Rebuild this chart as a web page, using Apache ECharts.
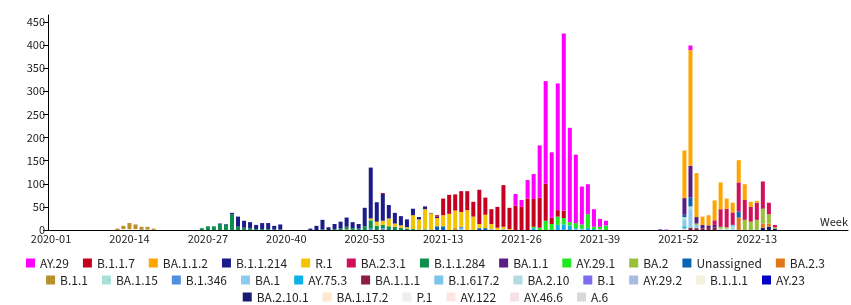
<!DOCTYPE html>
<html>
<head>
<meta charset="utf-8">
<script src="https://cdn.jsdelivr.net/npm/echarts@6/dist/echarts.min.js"></script>
<style>
html, body { margin: 0; padding: 0; background: #fff; }
#main { width: 851px; height: 305px; }
</style>
</head>
<body>
<div id="main"></div>
<script>
// weeks per year on the x axis
var years = [['2020', 53], ['2021', 52], ['2022', 18]];
var weeks = [];
years.forEach(function (y) {
    for (var w = 1; w <= y[1]; w++) {
        weeks.push(y[0] + '-' + (w < 10 ? '0' + w : w));
    }
});

// legend rows (same order as the picture)
var legendRow1 = ['AY.29', 'B.1.1.7', 'BA.1.1.2', 'B.1.1.214', 'R.1', 'BA.2.3.1', 'B.1.1.284', 'BA.1.1', 'AY.29.1', 'BA.2', 'Unassigned', 'BA.2.3'];
var legendRow2 = ['B.1.1', 'BA.1.15', 'B.1.346', 'BA.1', 'AY.75.3', 'BA.1.1.1', 'B.1.617.2', 'BA.2.10', 'B.1', 'AY.29.2', 'B.1.1.1', 'AY.23'];
var legendRow3 = ['BA.2.10.1', 'BA.1.17.2', 'P.1', 'AY.122', 'AY.46.6', 'A.6'];

var colors = [
    '#ff00ff', '#c4001e', '#ffa500', '#1c1c8a', '#f4c400', '#d0105c', '#0f8f4f', '#5a1e82', '#1ee81e', '#9abf3a', '#0a64b4', '#e0781a',
    '#b8902c', '#a8e0d8', '#4f8fdf', '#8ccbf0', '#10b0e8', '#8b2040', '#7fc4ea', '#b0dce0', '#7b6cf0', '#a8bce0', '#f3f0dc', '#0000c8',
    '#1a1a70', '#fde8cc', '#eeeeee', '#ffe4e4', '#f8e0e8', '#d8d8d8'
];

// counts per week for each lineage
var ay29 = [['2021-25', 25], ['2021-26', 15], ['2021-27', 40], ['2021-28', 54], ['2021-29', 113], ['2021-30', 222], ['2021-31', 141], ['2021-32', 274], ['2021-33', 383], ['2021-34', 204], ['2021-35', 148], ['2021-36', 82], ['2021-37', 65], ['2021-38', 38], ['2021-39', 17], ['2021-40', 10], ['2021-50', 1], ['2022-02', 10]];
var b117 = [['2021-03', 2], ['2021-12', 3], ['2021-13', 36], ['2021-14', 41], ['2021-15', 35], ['2021-16', 45], ['2021-17', 41], ['2021-18', 32], ['2021-19', 74], ['2021-20', 37], ['2021-21', 32], ['2021-22', 45], ['2021-23', 90], ['2021-24', 46], ['2021-25', 53], ['2021-26', 50], ['2021-27', 68], ['2021-28', 60], ['2021-29', 65], ['2021-30', 80], ['2021-31', 14], ['2021-32', 14], ['2021-33', 16]];
var ba112 = [['2022-01', 103], ['2022-02', 250], ['2022-03', 95], ['2022-04', 18], ['2022-05', 22], ['2022-06', 43], ['2022-07', 58], ['2022-08', 22], ['2022-09', 21], ['2022-10', 48], ['2022-11', 34], ['2022-12', 11], ['2022-13', 4]];
var b11214 = [['2020-29', 1], ['2020-30', 1], ['2020-31', 3], ['2020-32', 22], ['2020-33', 15], ['2020-34', 13], ['2020-35', 9], ['2020-36', 13], ['2020-37', 13], ['2020-38', 8], ['2020-39', 11], ['2020-44', 3], ['2020-45', 9], ['2020-46', 21], ['2020-47', 6], ['2020-48', 11], ['2020-49', 15], ['2020-50', 20], ['2020-51', 13], ['2020-52', 10], ['2020-53', 40], ['2021-01', 110], ['2021-02', 42], ['2021-03', 58], ['2021-04', 29], ['2021-05', 23], ['2021-06', 20], ['2021-07', 17], ['2021-08', 14], ['2021-09', 5], ['2021-10', 6], ['2021-11', 1], ['2021-12', 3]];
var r1 = [['2021-01', 4], ['2021-02', 9], ['2021-03', 9], ['2021-04', 17], ['2021-05', 7], ['2021-06', 5], ['2021-07', 3], ['2021-08', 30], ['2021-09', 22], ['2021-10', 42], ['2021-11', 35], ['2021-12', 18], ['2021-13', 24], ['2021-14', 35], ['2021-15', 38], ['2021-16', 32], ['2021-17', 43], ['2021-18', 29], ['2021-19', 9], ['2021-20', 29], ['2021-21', 11], ['2021-22', 5], ['2021-23', 5], ['2021-24', 2]];
var ba231 = [['2022-06', 10], ['2022-07', 38], ['2022-08', 40], ['2022-09', 27], ['2022-10', 63], ['2022-11', 43], ['2022-12', 32], ['2022-13', 37], ['2022-14', 59], ['2022-15', 25], ['2022-16', 5]];
var b11284 = [['2020-26', 4], ['2020-27', 8], ['2020-28', 8], ['2020-29', 13], ['2020-30', 12], ['2020-31', 34], ['2020-32', 7], ['2020-33', 5], ['2020-34', 4], ['2020-35', 2], ['2020-36', 2], ['2020-37', 2], ['2020-38', 1], ['2020-39', 1], ['2020-46', 1], ['2020-48', 2], ['2020-49', 3], ['2020-50', 5], ['2020-51', 4], ['2020-52', 3], ['2020-53', 8], ['2021-01', 18], ['2021-02', 9], ['2021-03', 7], ['2021-04', 8], ['2021-05', 7], ['2021-06', 5], ['2021-07', 3], ['2021-08', 2], ['2021-09', 1], ['2021-10', 2], ['2021-11', 1]];
var ba11 = [['2022-01', 36], ['2022-02', 69], ['2022-03', 14], ['2022-04', 8], ['2022-05', 6], ['2022-06', 6]];
var ay291 = [['2021-28', 3], ['2021-29', 5], ['2021-30', 20], ['2021-31', 13], ['2021-32', 18], ['2021-33', 14], ['2021-34', 7], ['2021-35', 11], ['2021-36', 9], ['2021-37', 30], ['2021-38', 5], ['2021-39', 5], ['2021-40', 10]];
var ba2 = [['2022-03', 3], ['2022-07', 4], ['2022-08', 3], ['2022-11', 22], ['2022-12', 18], ['2022-13', 22], ['2022-14', 32], ['2022-15', 20], ['2022-16', 3]];
var unassigned = [['2021-12', 8], ['2021-13', 8], ['2021-19', 4], ['2021-20', 4], ['2022-01', 5], ['2022-02', 19], ['2022-10', 13]];
var ba23 = [['2022-10', 27], ['2022-14', 9], ['2022-15', 7]];
var b11 = [['2020-12', 3], ['2020-13', 7], ['2020-14', 13], ['2020-15', 10], ['2020-16', 6], ['2020-17', 6], ['2020-18', 3], ['2020-50', 2], ['2021-15', 4]];
var ba115 = [['2022-01', 6], ['2022-02', 6], ['2022-07', 3], ['2022-08', 3]];
var b1346 = [['2021-01', 3], ['2021-03', 4], ['2021-16', 4]];
var ba1 = [['2022-01', 14], ['2022-02', 40], ['2022-03', 7], ['2022-09', 5]];
var ay753 = [['2021-28', 4], ['2021-32', 11], ['2021-33', 11], ['2021-34', 10], ['2021-35', 3], ['2021-36', 2], ['2021-37', 4], ['2021-38', 2], ['2022-01', 5]];
var ba111 = [['2022-02', 5], ['2022-03', 4], ['2022-04', 3], ['2022-05', 4], ['2022-06', 5]];
var b16172 = [['2021-16', 3], ['2021-21', 2], ['2021-23', 2]];
var ba210 = [['2022-09', 6]];
var b1 = [['2020-16', 1], ['2021-49', 2]];
var ay292 = [['2021-39', 2]];
var b111 = [['2020-13', 2], ['2020-14', 2], ['2020-15', 2]];
var ay23 = [['2021-33', 1]];
var ba2101 = [['2022-14', 5], ['2022-15', 7], ['2022-16', 3]];
var ba1172 = [['2022-01', 3]];
var p1 = [['2021-10', 1]];
var ay122 = [['2021-36', 1]];
var ay466 = [['2021-35', 1]];
var a6 = [['2020-17', 1]];

var lineageData = {
    'AY.29': ay29, 'B.1.1.7': b117, 'BA.1.1.2': ba112, 'B.1.1.214': b11214, 'R.1': r1, 'BA.2.3.1': ba231,
    'B.1.1.284': b11284, 'BA.1.1': ba11, 'AY.29.1': ay291, 'BA.2': ba2, 'Unassigned': unassigned, 'BA.2.3': ba23,
    'B.1.1': b11, 'BA.1.15': ba115, 'B.1.346': b1346, 'BA.1': ba1, 'AY.75.3': ay753, 'BA.1.1.1': ba111,
    'B.1.617.2': b16172, 'BA.2.10': ba210, 'B.1': b1, 'AY.29.2': ay292, 'B.1.1.1': b111, 'AY.23': ay23,
    'BA.2.10.1': ba2101, 'BA.1.17.2': ba1172, 'P.1': p1, 'AY.122': ay122, 'AY.46.6': ay466, 'A.6': a6
};

var order = legendRow1.concat(legendRow2, legendRow3);

// first legend entry ends up on top of the stack
var series = order.slice().reverse().map(function (name) {
    var vals = weeks.map(function () { return 0; });
    lineageData[name].forEach(function (p) {
        vals[weeks.indexOf(p[0])] = p[1];
    });
    return {
        name: name,
        type: 'bar',
        stack: 'total',
        barWidth: 4,
        xAxisIndex: 0,
        yAxisIndex: 0,
        data: vals,
        itemStyle: { color: colors[order.indexOf(name)] },
        emphasis: { disabled: true }
    };
});

function legendRow(names, top) {
    return {
        data: names,
        left: 'center',
        top: top,
        padding: 0,
        icon: 'rect',
        itemWidth: 9,
        itemHeight: 9,
        itemGap: 14,
        selectedMode: false,
        textStyle: { fontSize: 12, color: '#222' }
    };
}

var chart = echarts.init(document.getElementById('main'));
var option = {
    animation: false,
    textStyle: { fontFamily: 'Noto Sans CJK JP' },
    grid: [
        { left: 48, right: 61, top: 15, bottom: 75 },
        { left: 48, right: 0, top: 15, bottom: 75 }
    ],
    legend: [
        legendRow(legendRow1, 257),
        legendRow(legendRow2, 274),
        legendRow(legendRow3, 291)
    ],
    xAxis: [{
        type: 'category',
        gridIndex: 0,
        data: weeks,
        axisLine: { lineStyle: { color: '#000', width: 1 } },
        axisTick: { alignWithLabel: true, interval: 0, length: 5, lineStyle: { color: '#000' } },
        axisLabel: { interval: 12, fontSize: 11, color: '#222', margin: 3 },
        splitLine: { show: false }
    }, {
        type: 'value',
        gridIndex: 1,
        min: 0,
        max: 1,
        axisLine: { show: true, lineStyle: { color: '#000', width: 1 } },
        axisTick: { show: false },
        axisLabel: { show: false },
        splitLine: { show: false },
        name: 'Week',
        nameLocation: 'end',
        nameGap: 0,
        nameTextStyle: { fontSize: 11, color: '#222', align: 'right', verticalAlign: 'bottom', padding: [0, 0, 3, 0] }
    }],
    yAxis: [{
        type: 'value',
        gridIndex: 0,
        min: 0,
        max: 465,
        interval: 50,
        axisLine: { show: true, lineStyle: { color: '#000', width: 1 } },
        axisTick: { show: true, length: 5, lineStyle: { color: '#000' } },
        axisLabel: { fontSize: 11, color: '#222', margin: 3, showMaxLabel: false },
        splitLine: { show: false }
    }, {
        type: 'value',
        gridIndex: 1,
        min: 0,
        max: 1,
        show: false
    }],
    series: series
};
chart.setOption(option);
</script>
</body>
</html>
